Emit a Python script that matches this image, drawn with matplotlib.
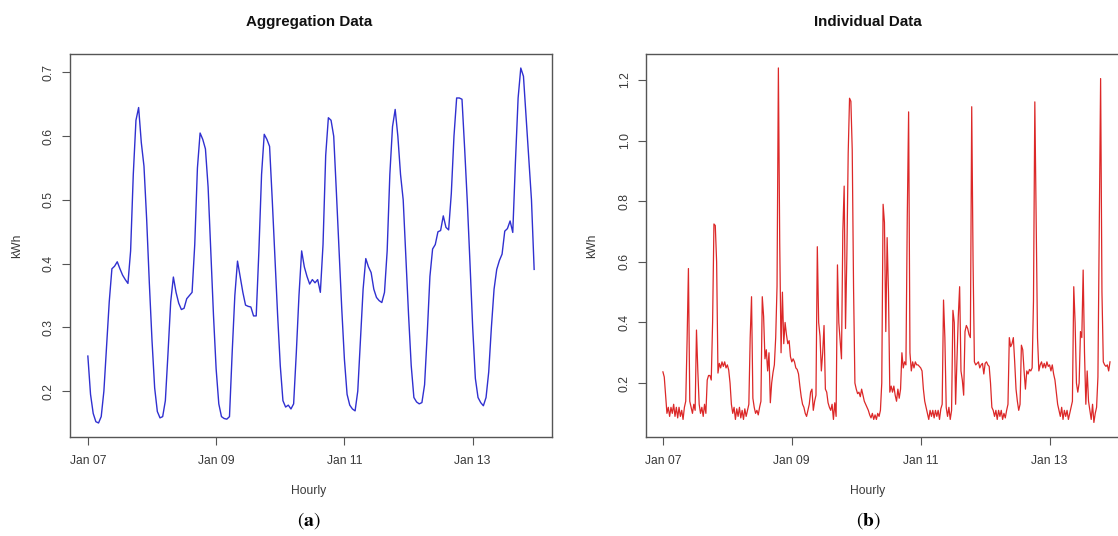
import numpy as np
import matplotlib
matplotlib.use("Agg")
import matplotlib.pyplot as plt

plt.rcParams['font.family'] = ['Liberation Sans', 'DejaVu Sans']
plt.rcParams['mathtext.fontset'] = 'stix'

# ---------------- data ----------------
day_ticks = [0, 48, 96, 144]           # hours since Jan 07 00:00
day_labels = ['Jan 07', 'Jan 09', 'Jan 11', 'Jan 13']

# Aggregation data: hourly kWh (7 days)
agg_kwh = [
    0.255, 0.195, 0.165, 0.152, 0.150, 0.160, 0.200, 0.270, 0.340, 0.392, 0.396, 0.403,
    0.392, 0.382, 0.375, 0.369, 0.420, 0.540, 0.625, 0.645, 0.590, 0.553, 0.470, 0.370,
    0.280, 0.205, 0.168, 0.158, 0.160, 0.185, 0.260, 0.340, 0.379, 0.355, 0.338, 0.328,
    0.330, 0.345, 0.350, 0.355, 0.430, 0.550, 0.605, 0.595, 0.580, 0.520, 0.420, 0.320,
    0.235, 0.180, 0.160, 0.157, 0.156, 0.160, 0.260, 0.350, 0.404, 0.380, 0.355, 0.335,
    0.333, 0.332, 0.318, 0.318, 0.420, 0.540, 0.603, 0.595, 0.584, 0.500, 0.410, 0.320,
    0.240, 0.185, 0.175, 0.178, 0.172, 0.180, 0.260, 0.350, 0.420, 0.395, 0.380, 0.368,
    0.375, 0.370, 0.375, 0.355, 0.430, 0.570, 0.629, 0.625, 0.600, 0.512, 0.420, 0.330,
    0.250, 0.195, 0.178, 0.172, 0.169, 0.200, 0.280, 0.360, 0.408, 0.395, 0.386, 0.360,
    0.347, 0.342, 0.339, 0.355, 0.420, 0.540, 0.615, 0.642, 0.600, 0.540, 0.500, 0.410,
    0.320, 0.240, 0.190, 0.183, 0.180, 0.182, 0.210, 0.290, 0.380, 0.423, 0.430, 0.450,
    0.452, 0.475, 0.457, 0.453, 0.510, 0.600, 0.660, 0.660, 0.658, 0.580, 0.496, 0.400,
    0.300, 0.220, 0.190, 0.182, 0.177, 0.190, 0.230, 0.300, 0.360, 0.391, 0.405, 0.415,
    0.451, 0.455, 0.467, 0.449, 0.560, 0.660, 0.707, 0.694, 0.630, 0.564, 0.500, 0.391,
]

# Individual data: half-hourly kWh
ind_kwh = [
    # Jan 07
    0.237, 0.220, 0.160, 0.100, 0.120, 0.090, 0.120, 0.100, 0.130, 0.090, 0.120, 0.085,
    0.120, 0.090, 0.110, 0.080, 0.120, 0.140, 0.340, 0.578, 0.140, 0.120, 0.100, 0.130,
    0.110, 0.375, 0.240, 0.130, 0.100, 0.120, 0.090, 0.130, 0.100, 0.210, 0.225, 0.225,
    0.210, 0.400, 0.725, 0.720, 0.600, 0.233, 0.265, 0.250, 0.270, 0.255, 0.270, 0.250,
    # Jan 08
    0.260, 0.243, 0.200, 0.130, 0.100, 0.120, 0.080, 0.115, 0.090, 0.120, 0.085, 0.110,
    0.080, 0.115, 0.090, 0.110, 0.130, 0.350, 0.485, 0.150, 0.120, 0.100, 0.110, 0.095,
    0.120, 0.140, 0.485, 0.420, 0.280, 0.310, 0.240, 0.300, 0.135, 0.200, 0.235, 0.260,
    0.350, 0.520, 1.240, 0.660, 0.300, 0.500, 0.330, 0.400, 0.360, 0.330, 0.340, 0.287,
    # Jan 09
    0.270, 0.280, 0.270, 0.250, 0.245, 0.230, 0.190, 0.155, 0.130, 0.120, 0.100, 0.090,
    0.110, 0.130, 0.170, 0.180, 0.110, 0.140, 0.160, 0.650, 0.400, 0.355, 0.240, 0.300,
    0.390, 0.180, 0.170, 0.135, 0.120, 0.110, 0.130, 0.080, 0.135, 0.090, 0.590, 0.400,
    0.340, 0.280, 0.700, 0.850, 0.380, 0.620, 0.960, 1.140, 1.130, 0.970, 0.510, 0.200,
    # Jan 10
    0.180, 0.165, 0.170, 0.155, 0.180, 0.160, 0.140, 0.130, 0.120, 0.110, 0.095, 0.085,
    0.100, 0.080, 0.095, 0.080, 0.100, 0.090, 0.110, 0.200, 0.790, 0.730, 0.370, 0.680,
    0.500, 0.170, 0.190, 0.170, 0.190, 0.160, 0.140, 0.180, 0.150, 0.180, 0.300, 0.250,
    0.270, 0.260, 0.750, 1.095, 0.300, 0.240, 0.270, 0.250, 0.270, 0.260, 0.260, 0.255,
    # Jan 11
    0.250, 0.240, 0.180, 0.140, 0.120, 0.100, 0.080, 0.110, 0.090, 0.110, 0.085, 0.110,
    0.090, 0.110, 0.080, 0.115, 0.130, 0.474, 0.350, 0.120, 0.090, 0.120, 0.080, 0.110,
    0.440, 0.400, 0.130, 0.270, 0.420, 0.518, 0.240, 0.210, 0.160, 0.370, 0.390, 0.380,
    0.360, 0.350, 1.112, 0.600, 0.270, 0.260, 0.265, 0.270, 0.250, 0.260, 0.265, 0.230,
    # Jan 12
    0.265, 0.270, 0.260, 0.255, 0.200, 0.120, 0.110, 0.090, 0.110, 0.080, 0.110, 0.090,
    0.110, 0.080, 0.100, 0.085, 0.110, 0.130, 0.350, 0.320, 0.330, 0.350, 0.270, 0.180,
    0.140, 0.110, 0.130, 0.325, 0.310, 0.240, 0.180, 0.240, 0.230, 0.245, 0.240, 0.250,
    0.470, 1.128, 0.750, 0.350, 0.240, 0.260, 0.270, 0.250, 0.265, 0.250, 0.270, 0.255,
    # Jan 13
    0.260, 0.240, 0.260, 0.230, 0.210, 0.170, 0.130, 0.110, 0.090, 0.120, 0.080, 0.110,
    0.090, 0.110, 0.080, 0.100, 0.120, 0.140, 0.518, 0.400, 0.200, 0.170, 0.200, 0.370,
    0.350, 0.573, 0.300, 0.130, 0.240, 0.140, 0.110, 0.080, 0.130, 0.070, 0.100, 0.120,
    0.220, 0.700, 1.205, 0.500, 0.270, 0.260, 0.255, 0.260, 0.240, 0.270,
]

agg_hours = np.arange(len(agg_kwh))
ind_hours = np.arange(len(ind_kwh)) * 0.5

agg_yticks = [0.2, 0.3, 0.4, 0.5, 0.6, 0.7]
agg_ylabels = ['0.2', '0.3', '0.4', '0.5', '0.6', '0.7']
ind_yticks = [0.2, 0.4, 0.6, 0.8, 1.0, 1.2]
ind_ylabels = ['0.2', '0.4', '0.6', '0.8', '1.0', '1.2']

# ---------------- figure ----------------
W, H = 1118, 536
fig = plt.figure(figsize=(W / 100, H / 100), dpi=100)

def px_rect(x0, y0, x1, y1):
    return [x0 / W, 1 - y1 / H, (x1 - x0) / W, (y1 - y0) / H]

axL = fig.add_axes(px_rect(70, 54, 552, 437))
axR = fig.add_axes(px_rect(646, 54, 1128, 437))

frame_col = '#555555'
txt_col = '#3a3a3a'

def style(ax, yticks, ylabels):
    for s in ax.spines.values():
        s.set_color(frame_col)
        s.set_linewidth(1.0)
    ax.set_xticks(day_ticks)
    ax.set_xticklabels(day_labels)
    ax.set_yticks(yticks)
    ax.set_yticklabels(ylabels, rotation=90, va='center')
    ax.tick_params(axis='both', direction='out', length=5.8, width=0.8,
                   color=frame_col, labelcolor=txt_col, labelsize=8.7)
    ax.tick_params(axis='x', pad=7)
    ax.tick_params(axis='y', pad=5)

axL.plot(agg_hours, agg_kwh, color='#3030d0', lw=1.0)
axL.set_xlim(-6.68, 173.68)
axL.set_ylim(0.128, 0.729)
style(axL, agg_yticks, agg_ylabels)

axR.plot(ind_hours, ind_kwh, color='#dc2828', lw=0.9)
axR.set_xlim(-6.3, 173.2)
axR.set_ylim(0.022, 1.286)
style(axR, ind_yticks, ind_ylabels)

def ftext(px, py, s, **kw):
    fig.text(px / W, 1 - py / H, s, ha='center', va='center', **kw)

ftext(309, 22, 'Aggregation Data', fontsize=10.9, fontweight='bold', color='#111111')
ftext(868, 22, 'Individual Data', fontsize=10.9, fontweight='bold', color='#111111')
ftext(309, 491, 'Hourly', fontsize=8.7, color=txt_col)
ftext(868, 491, 'Hourly', fontsize=8.7, color=txt_col)
ftext(17, 246, 'kWh', fontsize=8.7, color=txt_col, rotation=90)
ftext(592, 246, 'kWh', fontsize=8.7, color=txt_col, rotation=90)
ftext(309, 521, r'($\mathbf{a}$)', fontsize=14, color='black', family='STIXGeneral')
ftext(868, 521, r'($\mathbf{b}$)', fontsize=14, color='black', family='STIXGeneral')

fig.savefig('out.png', dpi=100)
